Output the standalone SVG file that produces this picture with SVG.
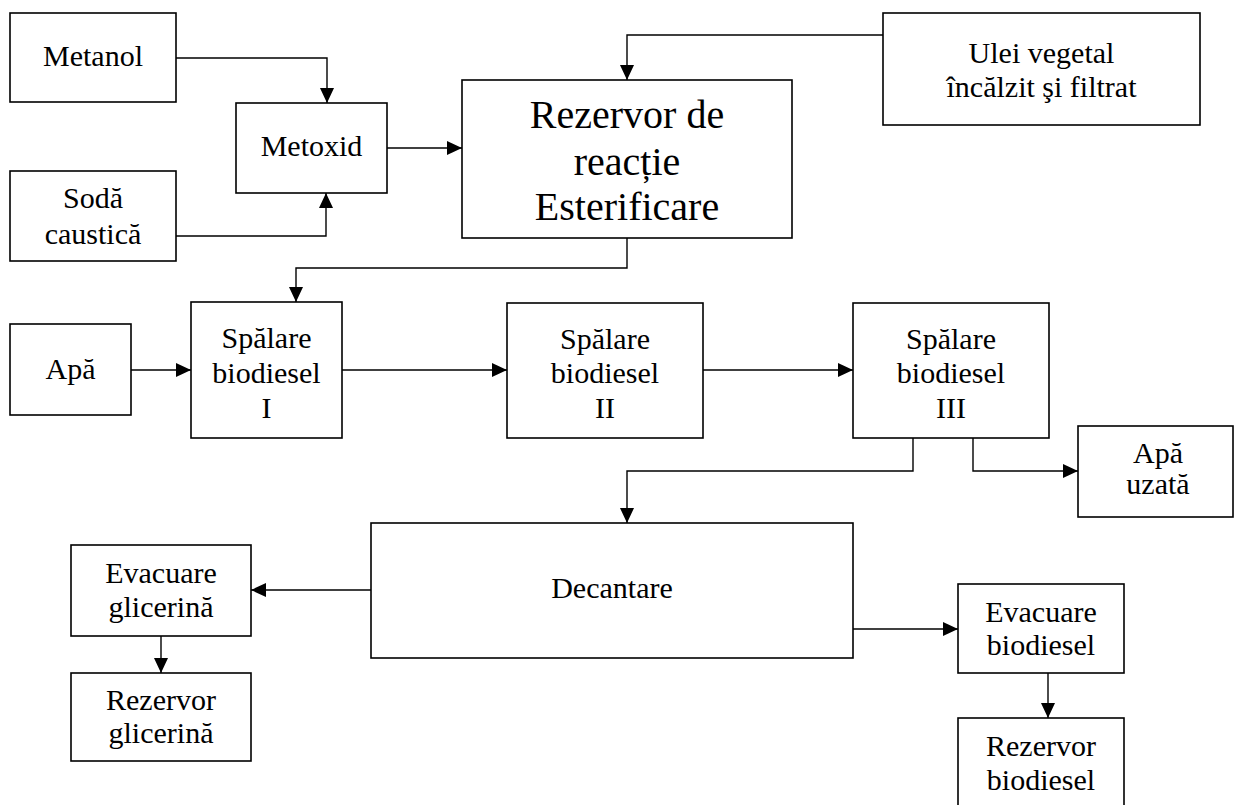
<svg xmlns="http://www.w3.org/2000/svg" width="1235" height="805" viewBox="0 0 1235 805">
<style>
.box{fill:#fff;stroke:#000;stroke-width:1.6}
.t{font-family:"Liberation Serif","Times New Roman",serif;font-size:30px;fill:#000;text-anchor:middle}
.big{font-size:40px}
.c{fill:none;stroke:#000;stroke-width:1.4;marker-end:url(#ah)}
</style>
<defs>
<marker id="ah" markerUnits="userSpaceOnUse" markerWidth="15" markerHeight="14" refX="15" refY="7" orient="auto">
<path d="M0,0 L15,7 L0,14 z" fill="#000"/>
</marker>
</defs>
<rect width="1235" height="805" fill="#fff"/>
<g id="connectors">
<path class="c" d="M176 58 H327 V103"/>
<path class="c" d="M176 236 H326 V193"/>
<path class="c" d="M387 148 H462"/>
<path class="c" d="M883 35 H627 V80"/>
<path class="c" d="M627 238 V268 H296 V302"/>
<path class="c" d="M131 370 H191"/>
<path class="c" d="M342 370 H507"/>
<path class="c" d="M703 370 H853"/>
<path class="c" d="M913 438 V471 H627 V523"/>
<path class="c" d="M973 438 V471 H1078"/>
<path class="c" d="M371 590 H251"/>
<path class="c" d="M161 636 V673"/>
<path class="c" d="M853 629 H958"/>
<path class="c" d="M1048 673 V718"/>
</g>
<g id="metanol"><rect class="box" x="10" y="13" width="166" height="89"/><text class="t" x="93" y="66">Metanol</text></g>
<g id="soda"><rect class="box" x="10" y="171" width="166" height="90"/><text class="t" x="93" y="208">Sodă</text><text class="t" x="93" y="244">caustică</text></g>
<g id="metoxid"><rect class="box" x="236" y="103" width="151" height="90"/><text class="t" x="311.5" y="156">Metoxid</text></g>
<g id="rezervor-reactie"><rect class="box" x="462" y="80" width="330" height="158"/><text class="t big" x="627" y="128">Rezervor de</text><text class="t big" x="627" y="175">reacție</text><text class="t big" x="627" y="220">Esterificare</text></g>
<g id="ulei"><rect class="box" x="883" y="13" width="317" height="112"/><text class="t" x="1041.5" y="63">Ulei vegetal</text><text class="t" x="1041.5" y="97">încălzit şi filtrat</text></g>
<g id="apa"><rect class="box" x="10" y="324" width="121" height="91"/><text class="t" x="70.5" y="379">Apă</text></g>
<g id="spalare1"><rect class="box" x="191" y="302" width="151" height="136"/><text class="t" x="266.5" y="348">Spălare</text><text class="t" x="266.5" y="383">biodiesel</text><text class="t" x="266.5" y="418">I</text></g>
<g id="spalare2"><rect class="box" x="507" y="303" width="196" height="135"/><text class="t" x="605" y="349">Spălare</text><text class="t" x="605" y="383">biodiesel</text><text class="t" x="605" y="418">II</text></g>
<g id="spalare3"><rect class="box" x="853" y="303" width="196" height="135"/><text class="t" x="951" y="349">Spălare</text><text class="t" x="951" y="383">biodiesel</text><text class="t" x="951" y="418">III</text></g>
<g id="apa-uzata"><rect class="box" x="1078" y="426" width="155" height="91"/><text class="t" x="1158" y="463">Apă</text><text class="t" x="1158" y="494">uzată</text></g>
<g id="decantare"><rect class="box" x="371" y="523" width="482" height="135"/><text class="t" x="612" y="598">Decantare</text></g>
<g id="evac-glicerina"><rect class="box" x="71" y="545" width="180" height="91"/><text class="t" x="161" y="583">Evacuare</text><text class="t" x="161" y="617">glicerină</text></g>
<g id="rez-glicerina"><rect class="box" x="71" y="673" width="180" height="88"/><text class="t" x="161" y="710">Rezervor</text><text class="t" x="161" y="743">glicerină</text></g>
<g id="evac-biodiesel"><rect class="box" x="958" y="584" width="166" height="89"/><text class="t" x="1041" y="622">Evacuare</text><text class="t" x="1041" y="655">biodiesel</text></g>
<g id="rez-biodiesel"><rect class="box" x="958" y="718" width="166" height="95"/><text class="t" x="1041" y="756">Rezervor</text><text class="t" x="1041" y="790">biodiesel</text></g>
</svg>
